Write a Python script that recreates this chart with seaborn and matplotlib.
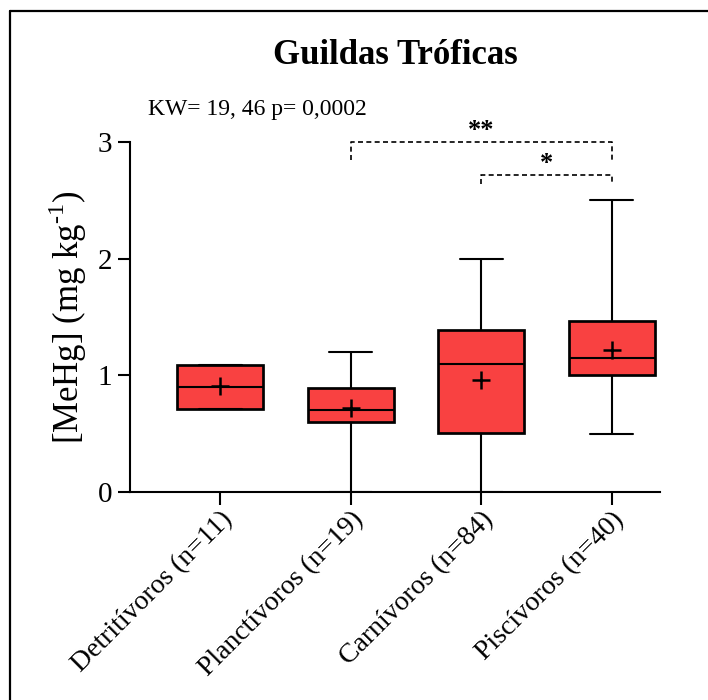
import numpy as np
import pandas as pd
import seaborn as sns
import matplotlib.pyplot as plt
from matplotlib.lines import Line2D

categories = ["Detritívoros (n=11)", "Planctívoros (n=19)", "Carnívoros (n=84)", "Piscívoros (n=40)"]
mins = [0.71, 0.00, 0.00, 0.50]
q1s = [0.71, 0.60, 0.51, 1.00]
medians = [0.90, 0.70, 1.10, 1.15]
q3s = [1.09, 0.89, 1.39, 1.47]
maxs = [1.09, 1.20, 2.00, 2.50]
means = [0.91, 0.72, 0.96, 1.22]
y_ticks = [0, 1, 2, 3]
title = "Guildas Tróficas"
stat_text = "KW= 19, 46 p= 0,0002"
# significance brackets: (from index, to index, y level, label)
brackets = [(1, 3, 3.0, "**"), (2, 3, 2.72, "*")]

# five-number summaries as long table (min, Q1, median, Q3, max)
rows = []
for c, a, b, m, d, e in zip(categories, mins, q1s, medians, q3s, maxs):
    for v in (a, b, m, d, e):
        rows.append({"grupo": c, "valor": v})
df = pd.DataFrame(rows)
df_mean = pd.DataFrame({"grupo": categories, "media": means})

sns.set_style("ticks")
plt.rcParams["font.family"] = ["Liberation Serif", "DejaVu Serif"]
plt.rcParams["mathtext.fontset"] = "custom"
plt.rcParams["mathtext.rm"] = "Liberation Serif"
for k in ("text.color", "axes.labelcolor", "xtick.color", "ytick.color", "axes.edgecolor"):
    plt.rcParams[k] = "black"

fig = plt.figure(figsize=(7.08, 7.0), dpi=100)
ax = fig.add_axes([130 / 708, 1 - 492 / 700, (660 - 130) / 708, (492 - 142) / 700])

box_color = "#F94141"
lw = 1.5
sns.boxplot(data=df, x="grupo", y="valor", order=categories, ax=ax,
            color=box_color, saturation=1, width=0.66, whis=(0, 100),
            linewidth=lw, linecolor="black", fliersize=0,
            medianprops=dict(color="black", linewidth=lw),
            boxprops=dict(edgecolor="black", linewidth=lw * 1.3),
            whiskerprops=dict(color="black", linewidth=lw),
            capprops=dict(color="black", linewidth=lw))

sns.pointplot(data=df_mean, x="grupo", y="media", order=categories, ax=ax,
              linestyle="none", marker="+", color="black", errorbar=None,
              markersize=13, markeredgewidth=1.8)

ax.set_xlim(-0.69, 3.37)
ax.set_ylim(0, 3)
ax.set_yticks(y_ticks)
ax.set_yticklabels([str(t) for t in y_ticks])
ax.set_xlabel("")
ax.set_ylabel("[MeHg] (mg kg$^{\\mathregular{\u20101}}$)", fontsize=25, labelpad=6)
sns.despine(ax=ax)
for s in ("left", "bottom"):
    ax.spines[s].set_linewidth(1.5)
    ax.spines[s].set_color("black")
ax.tick_params(axis="both", length=9, width=1.5, color="black", labelsize=21)
ax.tick_params(axis="y", pad=4)
ax.tick_params(axis="x", pad=2)
ax.set_xticks(range(len(categories)))
ax.set_xticklabels(categories, rotation=45, ha="right", rotation_mode="anchor",
                   fontsize=20)

# significance brackets
for i0, i1, yv, lab in brackets:
    leg = 0.15 if lab == "**" else 0.08
    ax.plot([i0, i0, i1, i1], [yv - leg, yv, yv, yv - leg], ls=(0, (3, 2)),
            color="black", lw=1.2, clip_on=False)
    ax.text((i0 + i1) / 2, yv + 0.0, lab, ha="center", va="bottom",
            fontsize=19, fontweight="bold", clip_on=False)

fig.text(395 / 708, 1 - 55 / 700, title, ha="center", va="center",
         fontsize=25, fontweight="bold")
fig.text(148 / 708, 1 - 110 / 700, stat_text, ha="left", va="center",
         fontsize=17)

# frame (top and left edges of a cropped border)
fig.add_artist(Line2D([10 / 708, 10 / 708], [0, 1 - 11 / 700], color="black",
                      lw=1.6, transform=fig.transFigure))
fig.add_artist(Line2D([10 / 708, 1], [1 - 11 / 700, 1 - 11 / 700], color="black",
                      lw=1.6, transform=fig.transFigure))

fig.savefig("out.png", dpi=100)
